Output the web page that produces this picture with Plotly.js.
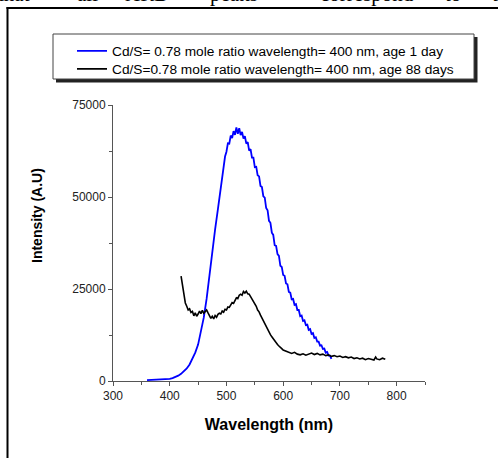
<!DOCTYPE html>
<html>
<head>
<meta charset="utf-8">
<script src="https://cdn.plot.ly/plotly-3.0.1.min.js"></script>
<style>html,body{margin:0;padding:0;background:#fff;}#chart{width:498px;height:458px;}</style>
</head>
<body>
<div id="chart"></div>
<script>
// ---- data ----
var seriesNames = [
  "Cd/S= 0.78 mole ratio wavelength= 400 nm, age 1 day",
  "Cd/S=0.78 mole ratio wavelength= 400 nm, age 88 days"
];

var wl1Day = [360,365,370,375,380,385,390,395,400,405,410,415,420,425,430,435,440,445,450,455,460,465,470,475,480,485,490,492.5,
  495,497.5,500,502.5,505,507.5,510,512.5,515,517.5,520,522.5,525,527.5,530,532.5,535,537.5,540,542.5,545,547.5,
  550,552.5,555,557.5,560,562.5,565,567.5,570,572.5,575,577.5,580,582.5,585,587.5,590,592.5,595,597.5,
  600,602.5,605,607.5,610,612.5,615,617.5,620,622.5,625,627.5,630,632.5,635,637.5,640,642.5,645,647.5,
  650,652.5,655,657.5,660,662.5,665,667.5,670,672.5,675,677.5,680,682.5,685];
var int1Day = [250,300,280,330,310,360,380,450,600,800,1100,1450,1950,2600,3400,4500,5900,7700,9900,13300,17200,22300,28800,35600,41200,46800,52500,55600,
  58000,61000,62300,64600,64500,66700,66000,67900,66900,68900,67200,68700,66800,67700,65900,66500,64500,64900,62600,63000,60700,60700,
  58100,58200,55900,55600,53000,52700,50200,49800,47000,46400,43500,43000,40300,39700,36900,36700,34500,34000,31300,31000,
  28800,28600,26500,26300,24200,24000,22200,22300,20700,20900,19300,19300,17600,17800,16300,16500,15200,15300,13900,14100,
  12800,13000,11700,11900,10700,10700,9600,9700,8700,8800,7700,7900,6900,6900,6000];

var wl88Day = [420,421,422.5,425,427.5,430,432.5,435,437.5,440,442.5,445,447.5,450,452.5,455,457.5,460,462.5,465,467.5,470,472.5,475,477.5,
  480,482.5,485,487.5,490,492.5,495,497.5,500,502.5,505,507.5,510,512.5,515,517.5,520,522.5,525,527.5,530,532.5,535,537.5,
  540,542.5,545,547.5,550,552.5,555,557.5,560,562.5,565,567.5,570,572.5,575,577.5,580,582.5,585,587.5,590,592.5,595,597.5,
  600,605,610,615,620,625,630,635,640,645,650,655,660,665,670,675,680,685,690,695,700,705,710,715,720,725,730,735,740,745,
  750,755,760,763,765,770,775,780];
var int88Day = [28500,27500,25800,22800,21200,20300,19300,19600,18600,18900,17700,18500,17600,18200,19000,18300,19200,18400,18900,19300,18500,17900,17000,17600,16900,
  17800,17300,18100,18400,18200,19000,18700,19500,19300,20100,20000,20700,21300,21100,22100,22600,22400,23300,23600,23300,24300,23900,24400,23700,
  23600,22900,22600,21800,21000,20300,19300,18800,17900,17100,16600,15800,14900,14200,13500,12600,12000,11400,10900,10400,9900,9500,9000,8800,
  8400,8100,7700,7500,7800,7300,7100,7400,7000,7300,7600,7200,7500,7100,7300,6900,7100,6700,6900,6600,6800,6400,6600,6300,6500,6100,6300,6000,6200,5800,
  6100,5900,5700,6500,6000,5800,6200,5900];

var xTickVals = [300,400,500,600,700,800];
var yTickVals = [0,25000,50000,75000];
var xTitle = "Wavelength (nm)";
var yTitle = "Intensity (A.U)";
var topWords = ["that","all","XRD","peaks","correspond","to","the"];

// ---- geometry helpers (pixel -> paper) ----
var W = 498, H = 458, ML = 113, MR = 73, MT = 105, MB = 77;
var PW = W - ML - MR, PH = H - MT - MB;
function px(x){ return (x - ML) / PW; }
function py(y){ return (H - MB - y) / PH; }

var traces = [
  {x: wl1Day, y: int1Day, name: seriesNames[0], type: "scatter", mode: "lines",
   line: {color: "#0000ff", width: 1.8}, legend: "legend"},
  {x: wl88Day, y: int88Day, name: seriesNames[1], type: "scatter", mode: "lines",
   line: {color: "#000000", width: 1.6}, legend: "legend2"}
];

var wordX = [-4, 75, 123, 208, 318, 443, 490];
var annotations = [
  {xref: "paper", yref: "paper", x: px(37), y: py(216), text: yTitle, textangle: -90, showarrow: false,
   font: {family: "Arial, Liberation Sans, sans-serif", size: 14, color: "#000", weight: "bold"},
   xanchor: "center", yanchor: "middle"}
];
topWords.forEach(function(w, i){
  annotations.push({xref: "paper", yref: "paper", x: px(wordX[i]), y: py(8.5), text: w, showarrow: false,
    xanchor: "left", yanchor: "bottom", font: {family: "Liberation Serif, Times New Roman, serif", size: 21, color: "#000"}});
});

var shapes = [
  // page frame
  {type: "line", xref: "paper", yref: "paper", x0: px(7.5), x1: px(7.5), y0: py(7), y1: py(470), line: {color: "#000", width: 2}},
  {type: "line", xref: "paper", yref: "paper", x0: px(6.5), x1: px(510), y0: py(8), y1: py(8), line: {color: "#000", width: 2}},
  // legend shadow + box
  {type: "rect", xref: "paper", yref: "paper", x0: px(56), x1: px(477.5), y0: py(37), y1: py(82.5), fillcolor: "#222", line: {width: 0}},
  {type: "rect", xref: "paper", yref: "paper", x0: px(53), x1: px(474), y0: py(34), y1: py(79), fillcolor: "#fff", line: {color: "#444", width: 1}}
];

var axisCommon = {
  showline: true, linecolor: "#555", linewidth: 1, showgrid: false, zeroline: false,
  ticks: "outside", ticklen: 4, tickcolor: "#555", tickwidth: 1,
  tickfont: {family: "Arial, Liberation Sans, sans-serif", size: 12, color: "#222"}
};

var legendFont = {family: "Arial, Liberation Sans, sans-serif", size: 13.7, color: "#000"};

var layout = {
  width: W, height: H,
  margin: {l: ML, r: MR, t: MT, b: MB, pad: 0},
  paper_bgcolor: "#fff", plot_bgcolor: "#fff",
  showlegend: true,
  xaxis: Object.assign({}, axisCommon, {
    range: [300, 850], tickvals: xTickVals, ticktext: xTickVals.map(String),
    minor: {dtick: 50, tick0: 300, ticks: "outside", ticklen: 3, tickcolor: "#555", showgrid: false},
    title: {text: xTitle, standoff: 16, font: {family: "Arial, Liberation Sans, sans-serif", size: 16, color: "#000", weight: "bold"}}
  }),
  yaxis: Object.assign({}, axisCommon, {
    range: [0, 75000], tickvals: yTickVals, ticktext: yTickVals.map(String),
    minor: {dtick: 12500, tick0: 0, ticks: "outside", ticklen: 3, tickcolor: "#555", showgrid: false}
  }),
  legend: {x: px(72), y: py(51), xanchor: "left", yanchor: "middle", bgcolor: "rgba(0,0,0,0)", borderwidth: 0, font: legendFont},
  legend2: {x: px(72), y: py(69), xanchor: "left", yanchor: "middle", bgcolor: "rgba(0,0,0,0)", borderwidth: 0, font: legendFont},
  shapes: shapes,
  annotations: annotations
};

Plotly.newPlot("chart", traces, layout, {displayModeBar: false, staticPlot: true});
</script>
</body>
</html>
